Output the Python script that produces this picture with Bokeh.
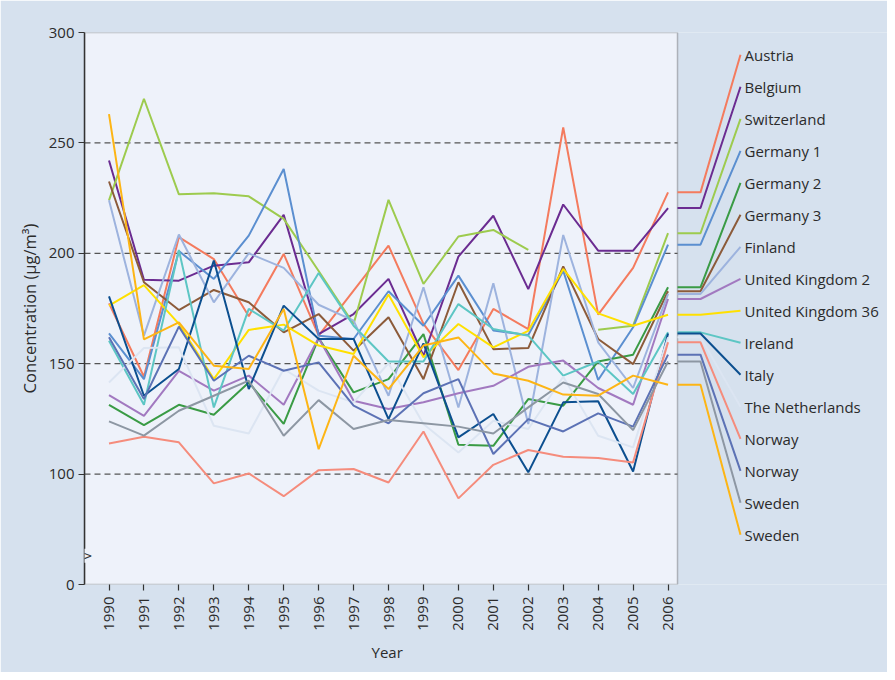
import math
from bokeh.plotting import figure
from bokeh.models import Range1d, FixedTicker, BoxAnnotation, Label, Title
from bokeh.embed import file_html
from bokeh.resources import INLINE
from bokeh.core.properties import value

NaN = float("nan")

years = list(range(1990, 2007))

names = ["Austria", "Belgium", "Switzerland", "Germany 1", "Germany 2", "Germany 3",
         "Finland", "United Kingdom 2", "United Kingdom 36", "Ireland", "Italy",
         "The Netherlands", "Norway", "Norway", "Sweden", "Sweden"]

austria      = [177.3, 144.1, 207.3, 197.4, 171.5, 199.7, 162.7, 183.1, 203.5, 168.0, 147.1, 174.8, 165.7, 257.0, 172.2, 193.4, 227.6]
belgium      = [242.0, 188.0, 187.6, 194.4, 195.9, 217.4, 163.4, 172.5, 188.4, 153.6, 198.5, 217.0, 183.8, 222.1, 201.2, 201.2, 220.5]
switzerland  = [224.0, 270.0, 226.7, 227.2, 225.8, 215.6, 192.0, 168.0, 224.2, 186.1, 207.6, 210.6, 201.5, NaN,   165.4, 167.2, 209.1]
germany_1    = [163.7, 143.0, 201.0, 188.4, 208.0, 238.2, 162.7, 161.2, 182.8, 167.2, 189.9, 165.0, 163.0, 192.1, 142.6, 166.5, 203.9]
germany_2    = [131.4, 122.2, 131.4, 126.9, 141.5, 122.7, 161.6, 137.0, 143.0, 163.4, 113.3, 112.8, 134.0, 131.0, 151.0, 154.1, 184.6]
germany_3    = [232.5, 186.9, 174.3, 183.4, 177.8, 164.2, 172.5, 155.9, 171.0, 143.0, 186.9, 156.6, 157.1, 194.1, 161.2, 149.8, 182.8]
finland      = [224.0, 162.7, 208.5, 177.8, 200.0, 193.4, 176.7, 169.5, 135.5, 184.6, 130.2, 186.4, 122.7, 208.3, 159.7, 139.0, 181.6]
uk_2         = [135.8, 126.4, 146.8, 137.8, 144.6, 131.4, 161.6, 133.2, 129.5, 132.5, 136.6, 140.0, 148.6, 151.4, 139.0, 131.4, 179.3]
uk_36        = [176.3, 185.6, 168.0, 143.0, 165.3, 167.7, 158.2, 154.4, 181.3, 152.9, 168.0, 157.4, 164.9, 192.9, 172.8, 167.2, 172.2]
ireland      = [160.4, 131.4, 201.5, 130.2, 174.8, 165.0, 191.1, 167.2, 151.0, 151.0, 177.0, 165.7, 162.7, 144.6, 151.0, 136.3, 164.2]
italy        = [180.5, 135.5, 147.6, 196.7, 138.5, 176.3, 161.2, 161.2, 124.9, 159.2, 116.6, 127.2, 100.8, 132.5, 133.0, 101.2, 163.7]
netherlands  = [141.5, 157.1, 157.4, 121.9, 118.4, 147.6, 137.8, 132.5, 150.2, 122.7, 109.8, 124.2, 120.4, 144.1, 117.4, 112.1, 162.0]
norway_1     = [113.9, 116.9, 114.4,  95.8, 100.3,  90.0, 101.8, 102.3,  96.2, 119.3,  89.0, 104.2, 110.9, 107.9, 107.3, 105.3, 159.7]
norway_2     = [162.0, 134.0, 166.8, 142.3, 153.6, 146.8, 150.6, 131.0, 123.0, 136.6, 143.0, 109.1, 124.9, 119.3, 127.5, 121.5, 154.1]
sweden_1     = [123.9, 117.4, 128.7, 135.5, 142.3, 117.4, 133.5, 120.4, 124.5, 123.0, 121.5, 118.4, 130.2, 141.5, 136.3, 119.9, 151.0]
sweden_2     = [263.0, 161.0, 168.7, 149.1, 147.6, 174.8, 111.3, 153.6, 138.5, 158.2, 161.9, 145.6, 142.3, 136.0, 135.5, 144.6, 140.5]

series = [austria, belgium, switzerland, germany_1, germany_2, germany_3, finland, uk_2,
          uk_36, ireland, italy, netherlands, norway_1, norway_2, sweden_1, sweden_2]

colors = ["#F47B5E", "#6B2C91", "#9DCB4E", "#5B8FD0", "#3A9B45", "#8C5B3A",
          "#9DB3DE", "#A279C0", "#FFE000", "#5DC6C4", "#0C4F8F", "#DCE5F2",
          "#F58C7C", "#5C72B5", "#8D97A3", "#FDB515"]

y_ticks = [50, 100, 150, 200, 250, 300]
y_tick_labels = {50: "0"}      # axis is broken between 0 and 100
grid_levels = [100, 150, 200, 250]
x_title = "Year"
y_title = "Concentration (µg/m³)"

FONT = "Open Sans"
TXT = "#2b2b2b"
OUTER_BG = "#D6E1EE"
PLOT_BG = "#EEF2FA"

# ---- layout (pixels) ----
W, H = 887, 672
ML, MT, MB = 84, 32, 88
FRAME_W = W - ML
FRAME_H = H - MT - MB
PLOT_W = 593                      # width of the drawn chart box
PX_YEAR = 34.94
X0 = 1990 - 24.5 / PX_YEAR
X1 = X0 + FRAME_W / PX_YEAR
Y0, Y1 = 50, 300
PX_UNIT = FRAME_H / (Y1 - Y0)

def px_x(px):
    return X0 + px / PX_YEAR

def px_y(py):
    return Y1 - py / PX_UNIT

p = figure(width=W, height=H, output_backend="svg", toolbar_location=None,
           x_range=Range1d(X0, X1), y_range=Range1d(Y0, Y1),
           min_border_left=ML, min_border_right=0, min_border_top=MT, min_border_bottom=MB)
p.background_fill_color = OUTER_BG
p.border_fill_color = OUTER_BG
p.outline_line_color = None
p.xgrid.visible = False
p.ygrid.visible = False

box_right = px_x(PLOT_W)
p.add_layout(BoxAnnotation(left=X0, right=box_right, bottom=Y0, top=Y1,
                           fill_color=PLOT_BG, fill_alpha=1.0,
                           line_color="#333333", line_width=1.5, level="underlay"))

p.segment(x0=[X0] * len(grid_levels), x1=[box_right] * len(grid_levels),
          y0=grid_levels, y1=grid_levels, line_color="#555555", line_width=1.2,
          line_dash="6 4")

for vals, c in zip(series, colors):
    p.line(years, vals, line_color=c, line_width=2)

# legend connectors and labels
x_elbow = px_x(616)
x_end = px_x(656)
x_text = px_x(660)
lab_y = [px_y(22.3 + 32 * i) for i in range(len(names))]
xs, ys = [], []
for vals, ly in zip(series, lab_y):
    last = vals[-1]
    xs.append([box_right, x_elbow, x_end])
    ys.append([last, last, ly])
p.multi_line(xs, ys, line_color=colors, line_width=2)
p.text(x=[x_text] * len(names), y=lab_y, text=names, text_font=value(FONT),
       text_font_size="15px", text_color=TXT, text_baseline="middle", text_align="left")

# axes
p.xaxis.ticker = FixedTicker(ticks=years)
p.xaxis.major_label_orientation = math.pi / 2
p.xaxis.axis_line_color = None
p.yaxis.ticker = FixedTicker(ticks=y_ticks)
p.yaxis.major_label_overrides = y_tick_labels
p.yaxis.axis_label = y_title
for ax in (p.xaxis, p.yaxis):
    ax.minor_tick_line_color = None
    ax.major_tick_in = 0
    ax.major_tick_out = 6
    ax.major_tick_line_color = "#333333"
    ax.major_tick_line_width = 1.2
    ax.major_label_text_font = FONT
    ax.major_label_text_font_size = "15px"
    ax.major_label_text_color = TXT
    ax.axis_label_text_font = FONT
    ax.axis_label_text_font_size = "16.5px"
    ax.axis_label_text_font_style = "normal"
    ax.axis_label_text_color = TXT
p.yaxis.axis_line_color = "#333333"
p.yaxis.axis_line_width = 1.5
p.yaxis.major_label_standoff = 4
p.yaxis.axis_label_standoff = 5
p.xaxis.major_label_standoff = 6

# x-axis title, centred under the chart box
p.add_layout(Title(text=x_title, align="left", offset=287, text_font=FONT,
                   text_font_size="15px", text_font_style="normal", text_color=TXT,
                   standoff=12), "below")

# axis-break notch on the y axis
p.add_layout(Label(x=X0, y=63, text=">", text_font="DejaVu Sans", text_font_size="12px",
                   text_color="#333333", text_align="left", text_baseline="middle",
                   x_offset=-2, background_fill_color=PLOT_BG, background_fill_alpha=1.0))

open("out.html", "w").write(file_html(p, INLINE))
